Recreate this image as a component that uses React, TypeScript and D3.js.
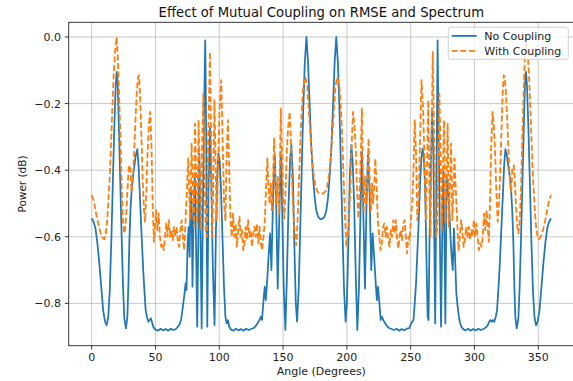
import React from "react";
import * as d3 from "d3";

const noCoupling: [number, number][] = [
  [0,-0.545],[1.5,-0.555],[3,-0.575],[4.5,-0.62],[6,-0.68],[7.5,-0.75],[9,-0.82],[10.5,-0.855],[11.7,-0.866],[13,-0.84],[14.2,-0.76],[15.5,-0.6],[16.7,-0.42],[17.8,-0.265],[18.8,-0.15],[19.6,-0.105],[20.4,-0.14],[21.4,-0.28],[22.5,-0.45],[23.5,-0.6],[24.6,-0.75],[25.6,-0.845],[26.9,-0.875],[28,-0.84],[28.8,-0.74],[29.5,-0.62],[30.4,-0.52],[31.3,-0.46],[32.3,-0.42],[33.4,-0.39],[34.6,-0.355],[35.8,-0.337],[36.8,-0.39],[37.8,-0.48],[39.2,-0.6],[40.4,-0.7],[41.3,-0.76],[42.3,-0.82],[43.3,-0.84],[44.5,-0.855],[45.5,-0.85],[46.5,-0.845],[47.5,-0.86],[48.5,-0.872],[49.8,-0.878],[52,-0.882],[54,-0.876],[56,-0.881],[58,-0.877],[60,-0.882],[62,-0.876],[64,-0.88],[66,-0.877],[67.5,-0.87],[69,-0.862],[70,-0.85],[70.8,-0.83],[71.8,-0.8],[72.8,-0.77],[73.6,-0.74],[74.3,-0.76],[75.2,-0.62],[76,-0.57],[76.8,-0.66],[77.6,-0.45],[78.3,-0.5],[79,-0.75],[79.8,-0.55],[80.8,-0.42],[81.7,-0.6],[82.7,-0.87],[83.6,-0.6],[84.4,-0.35],[85.3,-0.6],[86.2,-0.875],[87.2,-0.5],[88.2,-0.2],[89,-0.01],[89.8,-0.3],[90.6,-0.87],[91.6,-0.45],[92.8,-0.27],[93.8,-0.45],[95,-0.7],[96.3,-0.865],[97.3,-0.6],[98.3,-0.42],[99.3,-0.35],[100.3,-0.37],[101.3,-0.45],[102.5,-0.6],[103.7,-0.75],[104.8,-0.84],[105.8,-0.86],[106.8,-0.85],[107.8,-0.87],[109,-0.878],[111,-0.882],[113,-0.876],[115,-0.881],[117,-0.877],[119,-0.882],[121,-0.876],[123,-0.88],[125,-0.877],[127,-0.874],[128.5,-0.868],[130,-0.86],[131.5,-0.85],[132.5,-0.84],[133.5,-0.85],[134.5,-0.8],[135.6,-0.75],[136.5,-0.79],[137.7,-0.72],[138.8,-0.65],[139.8,-0.59],[140.9,-0.7],[142.2,-0.47],[143.5,-0.355],[144.6,-0.5],[145.8,-0.755],[147,-0.55],[148.2,-0.345],[149.2,-0.5],[150.5,-0.75],[151.8,-0.88],[153,-0.72],[154.3,-0.5],[155.5,-0.37],[156.5,-0.325],[157.7,-0.42],[159,-0.65],[160,-0.8],[161,-0.855],[162.3,-0.75],[163.5,-0.57],[164.6,-0.4],[165.8,-0.22],[167,-0.08],[168.3,0],[169.5,-0.07],[170.8,-0.2],[172,-0.32],[173.3,-0.41],[174.7,-0.48],[176,-0.52],[177.5,-0.54],[179,-0.546],[180,-0.547],
  [181,-0.545],[182.5,-0.54],[184,-0.52],[185.3,-0.48],[186.7,-0.41],[188,-0.32],[189.2,-0.2],[190.5,-0.07],[191.7,0],[193,-0.08],[194.2,-0.22],[195.4,-0.4],[196.5,-0.57],[197.7,-0.75],[199,-0.855],[200,-0.8],[201,-0.65],[202.3,-0.42],[203.5,-0.325],[204.5,-0.37],[205.7,-0.5],[207,-0.72],[208.2,-0.88],[209.5,-0.75],[210.8,-0.5],[211.8,-0.345],[213,-0.55],[214.2,-0.755],[215.4,-0.5],[216.5,-0.355],[217.8,-0.47],[219.1,-0.7],[220.2,-0.59],[221.2,-0.65],[222.3,-0.72],[223.5,-0.79],[224.4,-0.75],[225.5,-0.8],[226.5,-0.85],[227.5,-0.84],[228.5,-0.85],[230,-0.86],[231.5,-0.868],[233,-0.874],[235,-0.877],[237,-0.88],[239,-0.876],[241,-0.882],[243,-0.877],[245,-0.881],[247,-0.876],[249,-0.874],[250.2,-0.862],[251.2,-0.855],[252.2,-0.85],[253.2,-0.8],[254.2,-0.74],[255.2,-0.65],[256.2,-0.56],[257.3,-0.45],[258.3,-0.37],[259.3,-0.335],[260.3,-0.36],[261.3,-0.45],[262.3,-0.65],[263.3,-0.84],[264,-0.85],[264.8,-0.6],[265.8,-0.4],[266.8,-0.22],[267.8,-0.35],[269.2,-0.86],[270.3,-0.4],[271.1,-0.01],[271.9,-0.3],[272.9,-0.6],[273.8,-0.87],[274.7,-0.6],[275.6,-0.4],[276.4,-0.6],[277.2,-0.86],[278.2,-0.42],[279.2,-0.45],[280.3,-0.52],[281.2,-0.6],[282.1,-0.66],[283,-0.7],[283.9,-0.575],[284.8,-0.66],[285.8,-0.77],[286.8,-0.81],[287.8,-0.84],[288.8,-0.86],[290,-0.872],[291.5,-0.878],[293,-0.881],[295,-0.876],[297,-0.882],[299,-0.877],[301,-0.881],[303,-0.876],[305,-0.88],[307,-0.877],[309,-0.872],[310.5,-0.865],[311.5,-0.855],[312.5,-0.85],[313.5,-0.855],[314.5,-0.85],[315.5,-0.855],[316.7,-0.84],[317.7,-0.82],[318.7,-0.76],[319.6,-0.7],[320.8,-0.6],[322.2,-0.48],[323.2,-0.39],[324.2,-0.337],[325.4,-0.355],[326.6,-0.39],[327.7,-0.42],[328.7,-0.46],[329.6,-0.52],[330.5,-0.62],[331.2,-0.74],[332,-0.84],[333.1,-0.875],[334.4,-0.845],[335.4,-0.75],[336.5,-0.6],[337.5,-0.45],[338.6,-0.28],[339.6,-0.14],[340.4,-0.105],[341.2,-0.15],[342.2,-0.265],[343.3,-0.42],[344.5,-0.6],[345.8,-0.76],[347,-0.84],[348.3,-0.866],[349.5,-0.855],[351,-0.82],[352.5,-0.75],[354,-0.68],[355.5,-0.62],[357,-0.575],[358.5,-0.555],[360,-0.545],
];

const withCoupling: [number, number][] = [
  [0,-0.475],[1.5,-0.49],[3,-0.52],[4.5,-0.55],[6,-0.575],[7.5,-0.595],[9,-0.605],[10,-0.607],[11,-0.59],[12,-0.56],[13,-0.5],[14.2,-0.42],[15.2,-0.32],[16.2,-0.215],[17.2,-0.12],[18.3,-0.045],[19.6,0],[20.5,-0.06],[21.5,-0.17],[22.5,-0.3],[23.5,-0.45],[24.5,-0.55],[25.5,-0.59],[26.3,-0.575],[27.3,-0.52],[28.3,-0.44],[29.2,-0.385],[30.3,-0.395],[31.3,-0.465],[32.3,-0.43],[33.4,-0.34],[34.3,-0.25],[35.3,-0.17],[36.3,-0.12],[37.1,-0.115],[38,-0.18],[39,-0.3],[40,-0.43],[41,-0.52],[41.8,-0.555],[42.8,-0.47],[43.8,-0.35],[44.9,-0.26],[45.9,-0.225],[46.9,-0.33],[47.8,-0.5],[48.8,-0.615],[49.8,-0.56],[50.5,-0.52],[51.5,-0.58],[52.5,-0.53],[53.5,-0.6],[54.5,-0.63],[55.5,-0.62],[56.5,-0.64],[57.5,-0.6],[58.5,-0.56],[59.5,-0.6],[60.5,-0.55],[61.5,-0.6],[62.5,-0.58],[63.5,-0.61],[64.5,-0.57],[65.5,-0.6],[66.5,-0.57],[67.5,-0.61],[68.5,-0.63],[69.5,-0.58],[70.5,-0.55],[71.5,-0.6],[72.5,-0.64],[73.5,-0.56],[74.5,-0.47],[75.7,-0.365],[76.5,-0.47],[77.3,-0.55],[78.3,-0.32],[79.2,-0.45],[80.1,-0.57],[81,-0.26],[81.9,-0.42],[82.8,-0.56],[83.8,-0.25],[84.7,-0.4],[85.6,-0.58],[86.5,-0.35],[87.5,-0.17],[88.4,-0.38],[89.3,-0.58],[90.2,-0.6],[91.4,-0.3],[92.7,-0.045],[93.6,-0.3],[94.5,-0.6],[95.3,-0.45],[96.2,-0.19],[97,-0.35],[98,-0.55],[99,-0.4],[100.2,-0.22],[101.5,-0.13],[102.6,-0.3],[103.8,-0.5],[104.8,-0.55],[105.8,-0.35],[106.8,-0.25],[107.8,-0.4],[108.8,-0.55],[109.8,-0.6],[110.8,-0.53],[111.8,-0.6],[112.8,-0.56],[113.8,-0.63],[114.8,-0.58],[115.8,-0.54],[116.8,-0.6],[117.8,-0.58],[118.8,-0.64],[119.6,-0.63],[120.6,-0.57],[121.6,-0.61],[122.6,-0.55],[123.6,-0.6],[124.6,-0.58],[125.6,-0.63],[126.6,-0.59],[127.6,-0.57],[128.6,-0.6],[129.6,-0.56],[130.6,-0.62],[131.6,-0.57],[132.6,-0.62],[133.6,-0.64],[134.6,-0.6],[135.6,-0.56],[136.7,-0.45],[137.7,-0.365],[138.6,-0.45],[139.4,-0.5],[140.3,-0.44],[141.2,-0.52],[142.1,-0.43],[143,-0.305],[144,-0.45],[144.9,-0.5],[145.8,-0.42],[146.8,-0.53],[147.5,-0.4],[148.2,-0.215],[149.2,-0.36],[150.2,-0.5],[151,-0.545],[152,-0.46],[153,-0.34],[154,-0.27],[155.2,-0.225],[156.2,-0.32],[157.3,-0.46],[158.6,-0.57],[160.4,-0.625],[161.5,-0.54],[162.6,-0.42],[163.6,-0.31],[164.6,-0.22],[165.8,-0.15],[167.5,-0.12],[169,-0.15],[170.5,-0.24],[172.2,-0.34],[173.8,-0.41],[175.5,-0.45],[177,-0.465],[178.7,-0.47],[180,-0.47],
  [181.3,-0.47],[183,-0.465],[184.5,-0.45],[186.2,-0.41],[187.8,-0.34],[189.5,-0.24],[191,-0.15],[192.5,-0.12],[194.2,-0.15],[195.4,-0.22],[196.4,-0.31],[197.4,-0.42],[198.5,-0.54],[199.6,-0.63],[201.4,-0.57],[202.7,-0.46],[203.8,-0.32],[204.8,-0.225],[206,-0.27],[207,-0.34],[208,-0.46],[209,-0.545],[209.8,-0.5],[210.8,-0.36],[211.8,-0.215],[212.5,-0.4],[213.2,-0.53],[214.2,-0.42],[215.1,-0.5],[216,-0.45],[217,-0.305],[217.9,-0.43],[218.8,-0.52],[219.7,-0.44],[220.6,-0.5],[221.4,-0.45],[222.3,-0.365],[223.3,-0.45],[224.4,-0.56],[225.4,-0.6],[226.4,-0.64],[227.4,-0.62],[228.4,-0.57],[229.4,-0.56],[230.4,-0.6],[231.4,-0.57],[232.4,-0.61],[233.4,-0.63],[234.4,-0.58],[235.4,-0.6],[236.4,-0.55],[237.4,-0.59],[238.4,-0.55],[239.4,-0.61],[240.4,-0.635],[241.2,-0.6],[242.2,-0.58],[243.2,-0.61],[244.2,-0.56],[245.2,-0.55],[246.2,-0.6],[247.2,-0.65],[248.2,-0.6],[249.2,-0.61],[250.2,-0.55],[251.2,-0.5],[252.2,-0.4],[253.2,-0.25],[254.2,-0.35],[255.2,-0.55],[256.2,-0.5],[257.4,-0.3],[258.5,-0.13],[259.8,-0.22],[261,-0.4],[262,-0.55],[263,-0.35],[263.8,-0.19],[264.7,-0.45],[265.5,-0.6],[266.4,-0.3],[267.3,-0.045],[268.4,-0.3],[269.9,-0.6],[270.7,-0.58],[271.6,-0.38],[272.5,-0.17],[273.5,-0.35],[274.4,-0.58],[275.3,-0.4],[276.2,-0.25],[277.2,-0.56],[278.1,-0.42],[279,-0.26],[279.9,-0.57],[280.8,-0.45],[281.7,-0.32],[282.7,-0.55],[283.5,-0.47],[284.3,-0.365],[285.5,-0.47],[286.5,-0.56],[287.5,-0.64],[288.5,-0.6],[289.5,-0.55],[290.5,-0.58],[291.5,-0.63],[292.5,-0.61],[293.5,-0.57],[294.5,-0.6],[295.5,-0.57],[296.5,-0.61],[297.5,-0.58],[298.5,-0.6],[299.5,-0.55],[300.5,-0.6],[301.5,-0.56],[302.5,-0.6],[303.5,-0.64],[304.5,-0.62],[305.5,-0.63],[306.5,-0.6],[307.5,-0.53],[308.5,-0.58],[309.5,-0.52],[310.2,-0.56],[311.2,-0.615],[312.2,-0.5],[313.1,-0.33],[314.1,-0.225],[315.1,-0.26],[316.2,-0.35],[317.2,-0.47],[318.2,-0.555],[319,-0.52],[320,-0.43],[321,-0.3],[322,-0.18],[322.9,-0.115],[323.7,-0.12],[324.7,-0.17],[325.7,-0.25],[326.6,-0.34],[327.7,-0.43],[328.7,-0.465],[329.7,-0.395],[330.8,-0.385],[331.7,-0.44],[332.7,-0.52],[333.7,-0.575],[334.5,-0.59],[335.5,-0.55],[336.5,-0.45],[337.5,-0.3],[338.5,-0.17],[339.5,-0.06],[340.4,-0.02],[341.7,-0.045],[342.8,-0.12],[343.8,-0.215],[344.8,-0.32],[345.8,-0.42],[347,-0.5],[348,-0.56],[349,-0.59],[350,-0.607],[351,-0.605],[352.5,-0.595],[354,-0.575],[355.5,-0.55],[357,-0.52],[358.5,-0.49],[360,-0.475],
];

const xTicks = [0, 50, 100, 150, 200, 250, 300, 350];
const yTicks = [0, -0.2, -0.4, -0.6, -0.8];
const seriesNames = ["No Coupling", "With Coupling"];

const W = 573;
const H = 381;
const left = 68.7;
const right = 574;
const top = 22.3;
const bottom = 345.7;
const FONT = "DejaVu Sans, sans-serif";
const BLUE = "#1f77b4";
const ORANGE = "#ff7f0e";

export default function App() {
  const x = d3.scaleLinear().domain([-18, 378]).range([left, right]);
  const y = d3.scaleLinear().domain([-0.927, 0.044]).range([bottom, top]);
  const line = d3
    .line<[number, number]>()
    .x((d) => x(d[0]))
    .y((d) => y(d[1]));
  const fmt = (v: number) => (v < 0 ? "\u2212" : "") + Math.abs(v).toFixed(1);
  const tickLen = 3.85;

  return (
    <svg
      width={W}
      height={H}
      style={{ position: "absolute", left: 0, top: 0, background: "#fff" }}
      fontFamily={FONT}
    >
      <defs>
        <clipPath id="plotclip">
          <rect x={left} y={top} width={right - left} height={bottom - top} />
        </clipPath>
      </defs>
      <rect x={0} y={0} width={W} height={H} fill="#fff" />
      <g stroke="#b0b0b0" strokeWidth={0.9} strokeOpacity={0.75}>
        {xTicks.map((t) => (
          <line key={"gx" + t} x1={x(t)} x2={x(t)} y1={top} y2={bottom} />
        ))}
        {yTicks.map((t) => (
          <line key={"gy" + t} x1={left} x2={right} y1={y(t)} y2={y(t)} />
        ))}
      </g>
      <g clipPath="url(#plotclip)" fill="none" strokeLinejoin="round">
        <path d={line(noCoupling) || ""} stroke={BLUE} strokeWidth={1.75} />
        <path
          d={line(withCoupling) || ""}
          stroke={ORANGE}
          strokeWidth={1.8}
          strokeDasharray="6,2.6"
        />
      </g>
      <rect
        x={left}
        y={top}
        width={right - left}
        height={bottom - top}
        fill="none"
        stroke="#222"
        strokeWidth={0.9}
      />
      {xTicks.map((t) => (
        <g key={"xt" + t}>
          <line x1={x(t)} x2={x(t)} y1={bottom} y2={bottom + tickLen} stroke="#222" strokeWidth={0.9} />
          <text x={x(t)} y={bottom + 15.3} textAnchor="middle" fontSize={11} fill="#222">
            {t}
          </text>
        </g>
      ))}
      {yTicks.map((t) => (
        <g key={"yt" + t}>
          <line x1={left - tickLen} x2={left} y1={y(t)} y2={y(t)} stroke="#222" strokeWidth={0.9} />
          <text x={left - 7.7} y={y(t)} dy="0.36em" textAnchor="end" fontSize={11} fill="#222">
            {fmt(t)}
          </text>
        </g>
      ))}
      <text x={(left + right) / 2} y={375} textAnchor="middle" fontSize={11} fill="#222">
        Angle (Degrees)
      </text>
      <text
        transform={`translate(25.5, ${(top + bottom) / 2}) rotate(-90)`}
        textAnchor="middle"
        fontSize={10.5}
        fill="#222"
      >
        Power (dB)
      </text>
      <text x={(left + right) / 2} y={17} textAnchor="middle" fontSize={13.2} fill="#111">
        Effect of Mutual Coupling on RMSE and Spectrum
      </text>
      <g>
        <rect x={448.3} y={27.3} width={120} height={32} rx={2.5} fill="#fff" fillOpacity={0.8} stroke="#cccccc" strokeWidth={0.9} />
        <line x1={451.7} x2={476.7} y1={35.9} y2={35.9} stroke={BLUE} strokeWidth={1.75} />
        <line x1={451.7} x2={476.7} y1={50.9} y2={50.9} stroke={ORANGE} strokeWidth={1.8} strokeDasharray="6,2.6" />
        <text x={484.3} y={35.9} dy="0.36em" fontSize={11} fill="#222">
          {seriesNames[0]}
        </text>
        <text x={484.3} y={50.9} dy="0.36em" fontSize={11} fill="#222">
          {seriesNames[1]}
        </text>
      </g>
    </svg>
  );
}
